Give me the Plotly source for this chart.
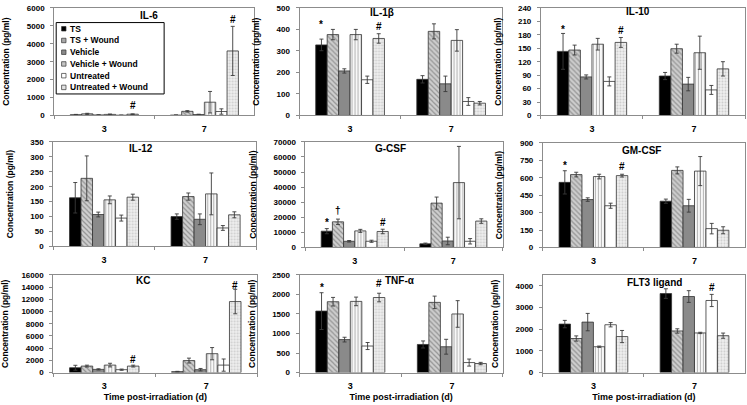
import plotly.graph_objects as go

SERIES = ["TS", "TS + Wound", "Vehicle", "Vehicle + Wound", "Untreated", "Untreated + Wound"]
DAYS = ["3", "7"]
PANELS = ["IL-6", "IL-1β", "IL-10", "IL-12", "G-CSF", "GM-CSF", "KC", "TNF-α", "FLT3 ligand"]

# means (day 3 / day 7) and error bars, series order as SERIES
IL6_D3 = [40, 90, 30, 60, 15, 70]
IL6_D7 = [20, 230, 50, 740, 220, 3600]
IL6_E3 = [20, 30, 10, 20, 5, 20]
IL6_E7 = [10, 40, 20, 600, 150, 1370]

IL1B_D3 = [328, 376, 207, 376, 166, 358]
IL1B_D7 = [168, 391, 147, 349, 65, 57]
IL1B_E3 = [27, 24, 10, 24, 17, 22]
IL1B_E7 = [17, 35, 36, 50, 18, 8]

IL10_D3 = [143, 146, 86, 159, 76, 163]
IL10_D7 = [88, 149, 70, 140, 57, 104]
IL10_E3 = [40, 11, 4.5, 13, 10, 11]
IL10_E7 = [8, 10, 15, 37, 10, 16]

IL12_D3 = [163, 228, 107, 156, 95, 165]
IL12_D7 = [100, 167, 91, 176, 62, 106]
IL12_E3 = [51, 75, 8, 13, 10, 10]
IL12_E7 = [9, 12, 18, 70, 8, 10]

GCSF_D3 = [10800, 17000, 4100, 11000, 4100, 10600]
GCSF_D7 = [2400, 29400, 4300, 43000, 4100, 17500]
GCSF_E3 = [1700, 1800, 500, 1000, 700, 1500]
GCSF_E7 = [500, 4000, 2500, 24000, 1800, 1500]

GMCSF_D3 = [560, 627, 412, 610, 359, 618]
GMCSF_D7 = [398, 663, 359, 657, 162, 148]
GMCSF_E3 = [100, 20, 15, 20, 22, 12]
GMCSF_E7 = [18, 30, 55, 125, 45, 30]

KC_D3 = [800, 1070, 530, 1230, 480, 1070]
KC_D7 = [160, 1970, 480, 3100, 1230, 11630]
KC_E3 = [400, 150, 100, 300, 100, 150]
KC_E7 = [50, 400, 200, 1000, 1000, 2000]

TNF_D3 = [1573, 1813, 844, 1821, 680, 1920]
TNF_D7 = [720, 1796, 662, 1500, 257, 232]
TNF_E3 = [470, 110, 60, 110, 90, 110]
TNF_E7 = [90, 160, 190, 340, 90, 30]

FLT3_D3 = [2234, 1570, 2325, 1192, 2204, 1660]
FLT3_D7 = [3638, 1917, 3502, 1826, 3320, 1700]
FLT3_E3 = [170, 120, 400, 30, 100, 280]
FLT3_E7 = [220, 100, 270, 30, 280, 120]

Y_MAX = [6000, 500, 240, 350, 70000, 900, 16000, 2500, 4500]
Y_DTICK = [1000, 100, 30, 50, 10000, 150, 2000, 500, 1000]

# significance marks: (panel, day index, series index, symbol)
MARKS = [
    ("IL-6", 0, 5, "#"), ("IL-6", 1, 5, "#"),
    ("IL-1β", 0, 0, "*"), ("IL-1β", 0, 5, "#"),
    ("IL-10", 0, 0, "*"), ("IL-10", 0, 5, "#"),
    ("G-CSF", 0, 0, "*"), ("G-CSF", 0, 1, "†"), ("G-CSF", 0, 5, "#"),
    ("GM-CSF", 0, 0, "*"), ("GM-CSF", 0, 5, "#"),
    ("KC", 0, 5, "#"), ("KC", 1, 5, "#"),
    ("TNF-α", 0, 0, "*"), ("TNF-α", 0, 5, "#"),
    ("FLT3 ligand", 1, 4, "#"),
]
# vertical offset (px) of each mark above its error bar, same order as MARKS
MARK_SHIFT = [8, 7, 15, 7, 4, 6.5, 6, 9, 6.5, 5, 8, 6, 4, 5, 10, 7]

DATA = {
    "IL-6": (IL6_D3, IL6_D7, IL6_E3, IL6_E7),
    "IL-1β": (IL1B_D3, IL1B_D7, IL1B_E3, IL1B_E7),
    "IL-10": (IL10_D3, IL10_D7, IL10_E3, IL10_E7),
    "IL-12": (IL12_D3, IL12_D7, IL12_E3, IL12_E7),
    "G-CSF": (GCSF_D3, GCSF_D7, GCSF_E3, GCSF_E7),
    "GM-CSF": (GMCSF_D3, GMCSF_D7, GMCSF_E3, GMCSF_E7),
    "KC": (KC_D3, KC_D7, KC_E3, KC_E7),
    "TNF-α": (TNF_D3, TNF_D7, TNF_E3, TNF_E7),
    "FLT3 ligand": (FLT3_D3, FLT3_D7, FLT3_E3, FLT3_E7),
}

# ---- layout geometry (pixels) ----
W, H = 747, 405
BOXES = [
    (41, 245, 4, 114), (291, 497, 4, 114), (537, 745, 4, 114),
    (40, 247, 141, 248), (297, 498, 141, 249), (539, 745, 142, 249),
    (40, 248, 277, 377), (291, 498, 277, 377), (539, 745, 277, 377),
]
TITLE_POS = [  # (fraction across plot area, px below top of plot area)
    (0.475, 8), (0.41, 5), (0.476, 4),
    (0.43, 7), (0.43, 7), (0.49, 8),
    (0.44, 6), (0.495, 6), (0.55, 8),
]
FONT = "Liberation Sans, Arial, sans-serif"
BARGAP = 0.32
EDGE = "#333333"

STYLES = [
    dict(color="black"),
    dict(color="#b8b8b8", pattern=dict(shape="\\", fgcolor="#5a5a5a", bgcolor="#cfcfcf", size=3.5, solidity=0.35)),
    dict(color="#8a8a8a"),
    dict(color="white", pattern=dict(shape="|", fgcolor="#6a6a6a", bgcolor="white", size=3, solidity=0.4)),
    dict(color="white"),
    dict(color="#e8e8e8", pattern=dict(shape=".", fgcolor="#a8a8a8", bgcolor="#efefef", size=3, solidity=0.35)),
]
SWATCH = ["black", "#a8a8a8", "#8a8a8a", "#c4c4c4", "white", "#e2e2e2"]

fig = go.Figure()
layout = dict(
    width=W, height=H, margin=dict(l=0, r=0, t=0, b=0),
    paper_bgcolor="white", plot_bgcolor="white",
    font=dict(family=FONT, color="black", size=8, weight="bold"),
    barmode="group", bargap=BARGAP, bargroupgap=0,
    showlegend=False,
)
annotations, shapes = [], []

def bar_offset(i, n=len(SERIES)):
    w = (1 - BARGAP) / n
    return -(1 - BARGAP) / 2 + w * (i + 0.5)

for k, name in enumerate(PANELS):
    d3, d7, e3, e7 = DATA[name]
    sfx = "" if k == 0 else str(k + 1)
    xa, ya = "x" + sfx, "y" + sfx
    for i, s in enumerate(SERIES):
        fig.add_trace(go.Bar(
            x=DAYS, y=[d3[i], d7[i]], name=s, xaxis=xa, yaxis=ya,
            marker=dict(line=dict(color=EDGE, width=0.8), **STYLES[i]),
            error_y=dict(type="data", array=[e3[i], e7[i]], color="#3a3a3a", thickness=0.9, width=2),
        ))
    l, r, t, b = BOXES[k]
    bottom_row = k >= 6
    layout["xaxis" + sfx] = dict(
        domain=[l / W, r / W], anchor=ya, type="category",
        range=[-0.5, 1.5], showline=True, mirror=True, linecolor="#8c8c8c", linewidth=1,
        ticks="outside", ticklen=3, tickcolor="#8c8c8c", tickson="boundaries",
        tickfont=dict(size=9, family=FONT, weight="bold"), ticklabelstandoff=5,
        showgrid=False, zeroline=False,
        title=dict(text="Time post-irradiation (d)" if bottom_row else "",
                   font=dict(size=9, family=FONT, weight="bold"), standoff=3),
    )
    layout["yaxis" + sfx] = dict(
        domain=[1 - b / H, 1 - t / H], anchor=xa,
        range=[0, Y_MAX[k]], dtick=Y_DTICK[k], tick0=0, tickformat="d",
        showline=True, mirror=True, linecolor="#8c8c8c", linewidth=1,
        ticks="outside", ticklen=3, tickcolor="#8c8c8c",
        tickfont=dict(size=8, family=FONT, weight="bold"), ticklabelstandoff=4,
        showgrid=False, zeroline=False,
        title=dict(text="Concentration (pg/ml)", font=dict(size=8.5, family=FONT, weight="bold")),
    )
    # panel title
    tx, ty = TITLE_POS[k]
    annotations.append(dict(
        text=name, xref=xa + " domain", yref="paper", x=tx, y=1 - (t + ty) / H,
        xanchor="center", yanchor="middle", showarrow=False,
        font=dict(size=10, family=FONT, weight="bold"),
    ))

# significance marks
for (name, di, si, sym), dy in zip(MARKS, MARK_SHIFT):
    k = PANELS.index(name)
    sfx = "" if k == 0 else str(k + 1)
    means = DATA[name][di]
    errs = DATA[name][2 + di]
    annotations.append(dict(
        text=sym, xref="x" + sfx, yref="y" + sfx,
        x=di + bar_offset(si), y=means[si] + errs[si],
        xanchor="center", yanchor="middle", showarrow=False, yshift=dy,
        font=dict(size=10, family=FONT, weight="bold"),
    ))

# legend box inside IL-6 panel
LEG_L, LEG_R, LEG_T, LEG_B = 43, 153, 19, 92
shapes.append(dict(type="rect", xref="paper", yref="paper",
                   x0=LEG_L / W, x1=LEG_R / W, y0=1 - LEG_B / H, y1=1 - LEG_T / H,
                   line=dict(color="black", width=1), fillcolor="white", layer="above"))
for i, s in enumerate(SERIES):
    yc = 25.3 + i * 12.0
    shapes.append(dict(type="rect", xref="paper", yref="paper",
                       x0=48.5 / W, x1=53 / W, y0=1 - (yc + 2.3) / H, y1=1 - (yc - 2.3) / H,
                       line=dict(color=EDGE, width=0.7), fillcolor=SWATCH[i], layer="above"))
    annotations.append(dict(text=s, xref="paper", yref="paper", x=55 / W, y=1 - yc / H,
                            xanchor="left", yanchor="middle", showarrow=False,
                            font=dict(size=8.5, family=FONT, weight="bold")))

layout["annotations"] = annotations
layout["shapes"] = shapes
fig.update_layout(**layout)
fig.write_html("out.html", config={"displayModeBar": False},
               post_script="document.body.style.margin='0';document.body.style.padding='0';")
